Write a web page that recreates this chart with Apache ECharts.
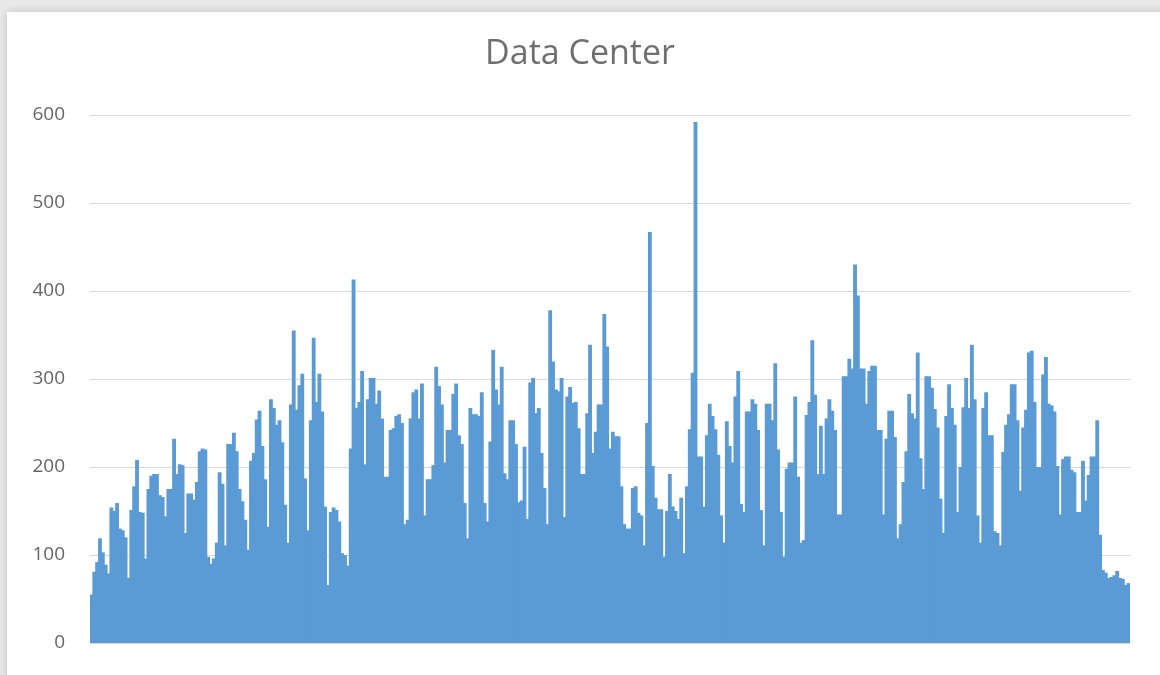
<!DOCTYPE html>
<html>
<head>
<meta charset="utf-8">
<title>Data Center</title>
<script src="https://cdn.jsdelivr.net/npm/echarts@6/dist/echarts.min.js"></script>
<style>
  html, body { margin: 0; padding: 0; width: 1160px; height: 675px; overflow: hidden; background: #e9e9e9; }
  #card { position: absolute; left: 7px; top: 12px; width: 1160px; height: 680px; background: #fff; box-shadow: 0 0 8px rgba(0,0,0,0.18); }
  #chart { position: absolute; left: 0; top: 0; width: 1160px; height: 675px; }
</style>
</head>
<body>
<div id="card"></div>
<div id="chart"></div>
<script>
// daily values, one row per week (365 days)
const values = [
  55, 81, 92, 119, 103, 89, 79,
  154, 150, 159, 130, 128, 120, 74,
  151, 178, 208, 149, 148, 96, 175,
  190, 192, 192, 168, 166, 144, 175,
  175, 232, 192, 203, 202, 125, 170,
  170, 163, 183, 218, 221, 220, 98,
  90, 96, 114, 194, 181, 111, 226,
  226, 239, 218, 175, 161, 140, 106,
  207, 216, 254, 264, 224, 186, 132,
  277, 267, 248, 253, 228, 157, 114,
  271, 355, 265, 293, 306, 187, 128,
  253, 347, 274, 306, 263, 155, 66,
  149, 154, 151, 138, 102, 100, 88,
  221, 413, 267, 274, 309, 203, 277,
  301, 301, 272, 287, 255, 189, 189,
  242, 244, 258, 260, 250, 135, 140,
  255, 285, 288, 255, 295, 145, 186,
  186, 202, 314, 292, 271, 205, 242,
  242, 283, 295, 236, 226, 159, 119,
  267, 260, 260, 258, 285, 159, 138,
  229, 333, 288, 271, 314, 193, 186,
  253, 253, 226, 160, 162, 223, 141,
  296, 301, 261, 267, 216, 176, 135,
  378, 320, 288, 286, 301, 143, 280,
  291, 273, 274, 244, 192, 192, 261,
  339, 216, 240, 271, 271, 374, 337,
  221, 240, 235, 235, 178, 135, 130,
  130, 176, 178, 148, 145, 111, 250,
  467, 201, 165, 152, 152, 98, 150,
  192, 155, 150, 141, 165, 102, 178,
  243, 307, 592, 212, 212, 155, 236,
  272, 258, 243, 214, 145, 114, 252,
  224, 205, 280, 309, 158, 149, 263,
  263, 277, 272, 242, 151, 111, 272,
  272, 253, 318, 220, 149, 98, 198,
  205, 205, 280, 189, 114, 117, 259,
  274, 344, 282, 192, 247, 192, 255,
  277, 264, 242, 146, 146, 303, 303,
  323, 312, 430, 395, 312, 312, 272,
  309, 315, 315, 242, 242, 146, 232,
  264, 264, 234, 119, 135, 183, 218,
  283, 261, 255, 330, 210, 175, 303,
  303, 290, 266, 245, 164, 125, 258,
  294, 267, 248, 149, 200, 268, 301,
  267, 339, 277, 145, 114, 267, 285,
  236, 236, 127, 125, 111, 217, 248,
  260, 294, 294, 253, 173, 245, 265,
  330, 332, 274, 200, 200, 305, 325,
  272, 270, 263, 201, 146, 209, 212,
  212, 197, 194, 149, 149, 207, 162,
  191, 212, 212, 253, 123, 83, 80,
  74, 75, 77, 82, 74, 73, 66,
  68
];
const days = values.map((v, i) => String(i + 1));
const yTicks = [0, 100, 200, 300, 400, 500, 600];

const chart = echarts.init(document.getElementById('chart'));

chart.setOption({
  animation: false,
  backgroundColor: 'transparent',
  title: {
    text: 'Data Center',
    left: 'center',
    top: 32,
    textStyle: { fontFamily: 'Open Sans', fontSize: 34, fontWeight: 'normal', color: '#6f6f6f' }
  },
  grid: { left: 90, right: 30, top: 115, bottom: 32 },
  xAxis: {
    type: 'category',
    data: days,
    axisLine: { show: true, lineStyle: { color: '#d9d9d9' } },
    axisTick: { show: false },
    axisLabel: { show: false },
    splitLine: { show: false }
  },
  yAxis: {
    type: 'value',
    min: yTicks[0],
    max: yTicks[yTicks.length - 1],
    interval: 100,
    axisLine: { show: false },
    axisTick: { show: false },
    axisLabel: { color: '#666666', fontSize: 19, fontFamily: 'Open Sans', margin: 25 },
    splitLine: { lineStyle: { color: '#d9d9d9', width: 1 } }
  },
  series: [{
    type: 'bar',
    data: values,
    barWidth: '135%',
    itemStyle: { color: '#5b9bd5' }
  }]
});
</script>
</body>
</html>
